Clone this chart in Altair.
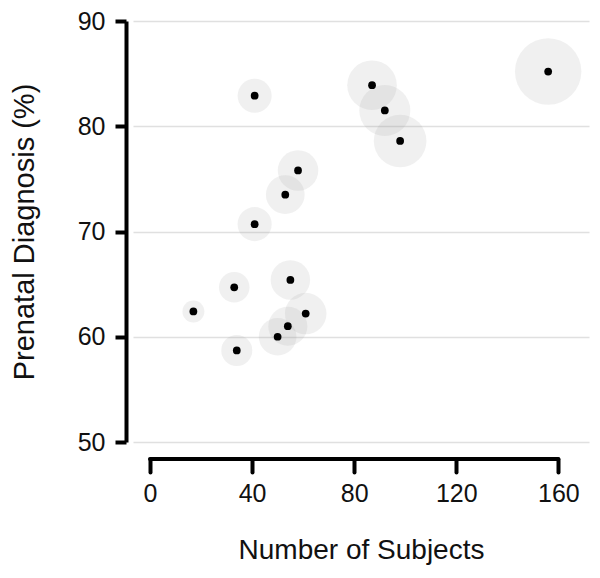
import altair as alt
import pandas as pd

# Data
subjects = [17, 33, 34, 41, 41, 50, 53, 54, 55, 58, 61, 87, 92, 98, 156]
prenatal_pct = [62.4, 64.7, 58.7, 82.9, 70.7, 60.0, 73.5, 61.0, 65.4, 75.8, 62.2, 83.9, 81.5, 78.6, 85.2]

x_ticks = [0, 40, 80, 120, 160]
y_ticks = [50, 60, 70, 80, 90]

df = pd.DataFrame({"n": subjects, "pct": prenatal_pct})
axis_df = pd.DataFrame({"start": [x_ticks[0]], "end": [x_ticks[-1]]})

FONT = "Liberation Sans"
W, H = 456, 421

xscale = alt.Scale(domain=[-6.66, 172.0], nice=False, zero=False)
yscale = alt.Scale(domain=[50, 90], nice=False, zero=False)

x_enc = alt.X(
    "n:Q",
    scale=xscale,
    axis=alt.Axis(
        values=x_ticks,
        domain=False,
        offset=17,
        tickSize=13,
        tickWidth=4,
        tickColor="black",
        tickCap="round",
        grid=False,
        labelFontSize=25,
        labelFont=FONT,
        labelColor="#111",
        labelPadding=9,
        title="Number of Subjects",
        titleFont=FONT,
        titleFontSize=28,
        titleFontWeight="normal",
        titleColor="#111",
        titlePadding=30,
    ),
)

y_enc = alt.Y(
    "pct:Q",
    scale=yscale,
    axis=alt.Axis(
        values=y_ticks,
        offset=7,
        domainWidth=4,
        domainColor="black",
        tickSize=11,
        tickWidth=4,
        tickColor="black",
        grid=True,
        gridColor="#e0e0e0",
        gridWidth=1.6,
        labelFontSize=25,
        labelFont=FONT,
        labelColor="#111",
        labelPadding=10,
        title="Prenatal Diagnosis (%)",
        titleFont=FONT,
        titleFontSize=29,
        titleFontWeight="normal",
        titleColor="#111",
        titlePadding=38,
    ),
)

bubbles = alt.Chart(df).mark_circle(color="#999999", opacity=0.15).encode(
    x=x_enc,
    y=y_enc,
    size=alt.Size("n:Q", scale=alt.Scale(domain=[0, 160], range=[0, 4524]), legend=None),
)

dots = alt.Chart(df).mark_circle(color="black", opacity=1, size=60).encode(
    x=alt.X("n:Q", scale=xscale),
    y=alt.Y("pct:Q", scale=yscale),
)

x_axis_line = alt.Chart(axis_df).mark_rule(color="black", strokeWidth=4, strokeCap="round").encode(
    x=alt.X("start:Q", scale=xscale),
    x2="end:Q",
    y=alt.value(H + 17),
)

chart = (
    alt.layer(bubbles, dots, x_axis_line)
    .properties(
        width=W,
        height=H,
        autosize=alt.AutoSizeParams(type="none"),
        padding={"left": 125, "top": 13, "right": 3, "bottom": 124},
    )
    .configure_view(stroke=None)
)

chart.save("out.html", embed_options={"renderer": "svg", "actions": False})
